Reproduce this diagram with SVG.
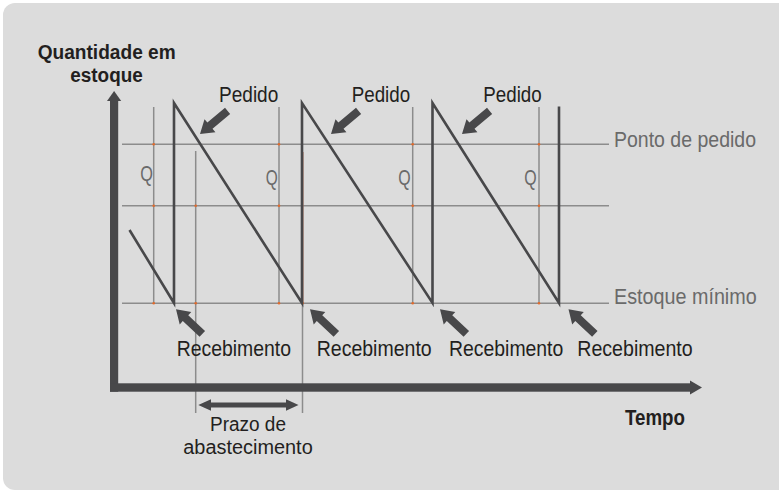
<svg xmlns="http://www.w3.org/2000/svg" width="779" height="492" viewBox="0 0 779 492">
<style>
.t{font-family:"Liberation Sans Narrow","Liberation Sans",Arial,sans-serif;font-size:22px;fill:#231f20}
.s{font-size:19.5px}
.b{font-weight:bold}
.g{fill:#6a6a6a}
.gl{stroke:#8c8c8c;stroke-width:1.5;fill:none}
.saw{stroke:#48484a;stroke-width:2.6;fill:none;stroke-linejoin:miter}
.ax{fill:#48484a}
.dot{fill:#e06a2c}
</style>
<defs>
<polygon id="arr" points="0,0 -13,-8.5 -13,-4 -36,-4 -36,4 -13,4 -13,8.5"/>
</defs>
<rect x="3" y="3" width="800" height="487" rx="12" fill="#dcdcdc"/>

<g id="grid">
<line class="gl" x1="122" y1="144.3" x2="609" y2="144.3"/>
<line class="gl" x1="122" y1="205.7" x2="609" y2="205.7"/>
<line class="gl" x1="122" y1="303.3" x2="609" y2="303.3"/>
<line class="gl" x1="153.7" y1="107" x2="153.7" y2="303.3"/>
<line class="gl" x1="195.7" y1="151" x2="195.7" y2="413"/>
<line class="gl" x1="279" y1="107" x2="279" y2="303.3"/>
<line class="gl" x1="302.5" y1="303.3" x2="302.5" y2="413"/>
<line x1="303" y1="152" x2="303" y2="303" stroke="#b0705a" stroke-width="1"/>
<line class="gl" x1="412.7" y1="107" x2="412.7" y2="303.3"/>
<line class="gl" x1="539" y1="107" x2="539" y2="303.3"/>
</g>

<g id="dots">
<circle class="dot" cx="153.7" cy="144.3" r="1.3"/>
<circle class="dot" cx="153.7" cy="205.7" r="1.3"/>
<circle class="dot" cx="153.7" cy="303.3" r="1.3"/>
<circle class="dot" cx="195.7" cy="205.7" r="1.3"/>
<circle class="dot" cx="195.7" cy="303.3" r="1.3"/>
<circle class="dot" cx="279" cy="144.3" r="1.3"/>
<circle class="dot" cx="279" cy="205.7" r="1.3"/>
<circle class="dot" cx="279" cy="303.3" r="1.3"/>
<circle class="dot" cx="302.5" cy="303.3" r="1.3"/>
<circle class="dot" cx="412.7" cy="144.3" r="1.3"/>
<circle class="dot" cx="412.7" cy="205.7" r="1.3"/>
<circle class="dot" cx="412.7" cy="303.3" r="1.3"/>
<circle class="dot" cx="539" cy="144.3" r="1.3"/>
<circle class="dot" cx="539" cy="205.7" r="1.3"/>
<circle class="dot" cx="539" cy="303.3" r="1.3"/>
</g>

<g id="sawtooth">
<path class="saw" d="M129.5,230 L174,303 L174,103 L302,303 L302,103 L432.5,303 L432.5,103 L559,303 L559,106.5"/>
</g>

<g id="axes">
<rect class="ax" x="110" y="99" width="8.2" height="292.7"/>
<polygon class="ax" points="114.1,91 107,101 121.2,101"/>
<rect class="ax" x="110" y="383.3" width="581" height="8.4"/>
<polygon class="ax" points="702,387.5 690,380.5 690,394.5"/>
</g>

<g id="connectors">
<use href="#arr" class="ax" transform="translate(200,134) rotate(140)"/>
<use href="#arr" class="ax" transform="translate(331,134) rotate(140)"/>
<use href="#arr" class="ax" transform="translate(462,134) rotate(140)"/>
<use href="#arr" class="ax" transform="translate(176,309.3) rotate(-137)"/>
<use href="#arr" class="ax" transform="translate(310,309.3) rotate(-137)"/>
<use href="#arr" class="ax" transform="translate(440,309.3) rotate(-137)"/>
<use href="#arr" class="ax" transform="translate(568.5,309.3) rotate(-137)"/>
<polygon class="ax" points="198.3,405 211,399.3 211,402.6 286,402.6 286,399.3 298.5,405 286,410.7 286,407.4 211,407.4 211,410.7"/>
</g>

<g id="labels">
<text class="t s b" x="106.7" y="58.5" text-anchor="middle" textLength="138" lengthAdjust="spacingAndGlyphs">Quantidade em</text>
<text class="t s b" x="106.5" y="81.5" text-anchor="middle" textLength="72.5" lengthAdjust="spacingAndGlyphs">estoque</text>
<text class="t" x="219" y="101.7" textLength="59.3" lengthAdjust="spacingAndGlyphs">Pedido</text>
<text class="t" x="351.7" y="101.7" textLength="58.5" lengthAdjust="spacingAndGlyphs">Pedido</text>
<text class="t" x="483.3" y="101.7" textLength="58.4" lengthAdjust="spacingAndGlyphs">Pedido</text>
<text class="t g" x="614" y="147.3" textLength="142" lengthAdjust="spacingAndGlyphs">Ponto de pedido</text>
<text class="t g" x="614" y="304" textLength="142.7" lengthAdjust="spacingAndGlyphs">Estoque mínimo</text>
<text class="t g" x="140.3" y="181" textLength="12.7" lengthAdjust="spacingAndGlyphs">Q</text>
<text class="t g" x="265.7" y="185" textLength="12" lengthAdjust="spacingAndGlyphs">Q</text>
<text class="t g" x="398.3" y="185" textLength="12.4" lengthAdjust="spacingAndGlyphs">Q</text>
<text class="t g" x="524.3" y="185" textLength="12.4" lengthAdjust="spacingAndGlyphs">Q</text>
<text class="t" x="176.7" y="356" textLength="114.3" lengthAdjust="spacingAndGlyphs">Recebimento</text>
<text class="t" x="316.7" y="356" textLength="115" lengthAdjust="spacingAndGlyphs">Recebimento</text>
<text class="t" x="449" y="356" textLength="114.3" lengthAdjust="spacingAndGlyphs">Recebimento</text>
<text class="t" x="577.3" y="356" textLength="115.4" lengthAdjust="spacingAndGlyphs">Recebimento</text>
<text class="t b" x="625" y="425" textLength="60" lengthAdjust="spacingAndGlyphs">Tempo</text>
<text class="t s" x="210" y="431" textLength="76" lengthAdjust="spacingAndGlyphs">Prazo de</text>
<text class="t s" x="183.3" y="454" textLength="129.4" lengthAdjust="spacingAndGlyphs">abastecimento</text>
</g>
</svg>
